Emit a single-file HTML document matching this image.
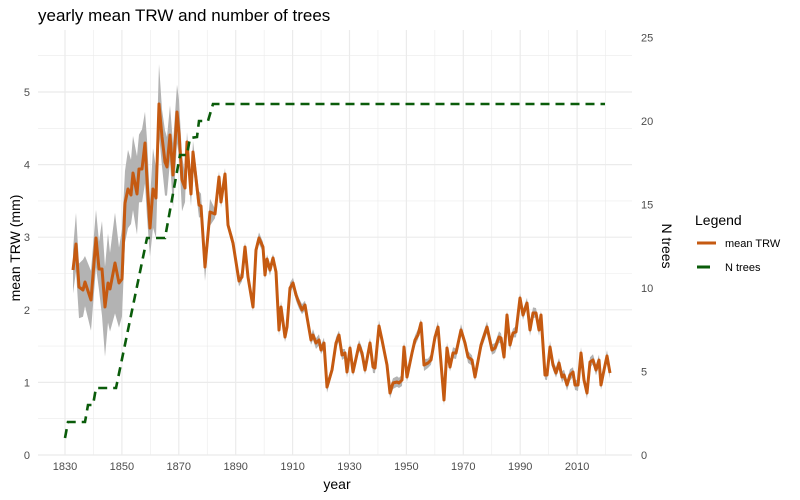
<!DOCTYPE html>
<html><head><meta charset="utf-8"><style>
html,body{margin:0;padding:0;background:#fff;}
svg{display:block;font-family:"Liberation Sans",Arial,sans-serif;}
</style></head><body>
<svg id="s" width="800" height="500" viewBox="0 0 800 500" xmlns="http://www.w3.org/2000/svg">
<rect width="800" height="500" fill="#fff"/>
<g id="grid"></g>
<polygon id="band" fill="#b3b3b3" stroke="none"/>
<polyline id="trw" fill="none" stroke="#c55a11" stroke-width="3" stroke-linejoin="round"/>
<polyline id="nt" fill="none" stroke="#0a5c0a" stroke-width="2.6" stroke-dasharray="9,6"/>
<text x="38" y="21" font-size="17" fill="#000">yearly mean TRW and number of trees</text>
<g font-size="11" fill="#4d4d4d" text-anchor="end" id="yl"></g>
<g font-size="11" fill="#4d4d4d" text-anchor="start" id="yr"></g>
<g font-size="11" fill="#4d4d4d" text-anchor="middle" id="xl"></g>
<text x="337" y="489" font-size="14" text-anchor="middle">year</text>
<text transform="translate(20,248) rotate(-90)" font-size="14" text-anchor="middle">mean TRW (mm)</text>
<text transform="translate(662,246) rotate(90)" font-size="14" text-anchor="middle">N trees</text>
<text x="695" y="225" font-size="14">Legend</text>
<line x1="697" y1="243" x2="716" y2="243" stroke="#c55a11" stroke-width="3"/>
<text x="725" y="247" font-size="11">mean TRW</text>
<line x1="697" y1="267" x2="710" y2="267" stroke="#0a5c0a" stroke-width="3"/>
<text x="725" y="271" font-size="11">N trees</text>
</svg>
<script>
var ns="http://www.w3.org/2000/svg";
function el(p,t,a,tx){var e=document.createElementNS(ns,t);for(var k in a)e.setAttribute(k,a[k]);if(tx!==undefined)e.textContent=tx;document.getElementById(p).appendChild(e);}
var L=38,R=632,T=30,B=455;
for(var v=0;v<=5.5;v+=0.5){var y=455-v*72.6;el("grid","line",{x1:L,x2:R,y1:y,y2:y,stroke:"#ebebeb","stroke-width":(v%1==0)?1.2:0.6});}
for(var yr=1830;yr<=2020;yr+=10){var x=65+(yr-1830)*2.845;el("grid","line",{x1:x,x2:x,y1:T,y2:B,stroke:"#ebebeb","stroke-width":(yr%20==10)?1.2:0.6});}
for(var v=0;v<=5;v++)el("yl","text",{x:30,y:459-v*72.6},v);
for(var v=0;v<=25;v+=5)el("yr","text",{x:641,y:459-v*16.7},v);
for(var yr=1830;yr<=2010;yr+=20)el("xl","text",{x:65+(yr-1830)*2.845,y:470},yr);
var p=[[73,270],[76,244],[79,287],[83,290],[85,282],[91,300],[96,238],[99,269],[102,269],[105,307],[108,283],[110,289],[115,263],[119,283],[122,279],[125,203],[128,189],[131,195],[133,173],[137,194],[139,169],[142,169],[145,143],[147,180],[150,228],[153,189],[156,198],[159,104],[162,137],[165,162],[167,167],[170,135],[173,175],[177,112],[179,133],[182,180],[185,188],[187,142],[191,194],[193,152],[199,205],[201,206],[205,267],[210,212],[215,214],[219,177],[221,202],[225,174],[228,225],[233,243],[239,281],[242,277],[245,247],[248,277],[253,307],[256,250],[259,238],[263,247],[265,275],[267,259],[270,270],[273,258],[276,272],[279,330],[281,307],[285,337],[287,327],[290,288],[293,283],[296,295],[299,303],[302,310],[305,305],[307,317],[311,340],[313,335],[316,343],[319,340],[321,350],[324,343],[327,387],[332,370],[336,343],[339,335],[342,355],[345,353],[347,372],[350,348],[353,372],[359,345],[362,353],[365,370],[370,343],[373,367],[375,368],[379,326],[382,340],[385,355],[387,365],[390,393],[393,383],[397,382],[399,383],[402,380],[404,347],[407,377],[412,353],[415,340],[418,335],[421,323],[424,365],[428,363],[431,360],[435,337],[438,327],[441,363],[444,400],[447,348],[450,367],[453,353],[456,353],[461,330],[465,343],[468,357],[472,360],[475,377],[481,345],[487,327],[492,350],[495,348],[499,337],[501,338],[504,357],[507,315],[510,345],[513,333],[516,332],[520,298],[523,315],[527,303],[530,330],[533,313],[536,313],[539,330],[541,315],[545,375],[547,375],[550,347],[553,365],[556,373],[559,363],[562,377],[564,375],[567,385],[570,375],[573,372],[575,385],[578,385],[581,353],[584,380],[587,393],[590,362],[593,360],[596,370],[599,360],[601,385],[604,370],[607,356],[610,373]];
document.getElementById("trw").setAttribute("points",p.map(function(a){return a.join(",")}).join(" "));
function w(x,i){var b=x<100?26:(x<124?42:(x<160?34:(x<185?28:(x<215?12:5))));return b*(0.8+0.4*Math.abs(Math.sin(i*1.7)));}
var up=p.map(function(a,i){return a[0]+","+(a[1]-w(a[0],i))});
var lo=p.map(function(a,i){return a[0]+","+(a[1]+w(a[0],i*1.3+2))}).reverse();
document.getElementById("band").setAttribute("points",up.concat(lo).join(" "));
var n=[[65,438],[68,422],[85,422],[88,405],[93,405],[96,388],[116,388],[147,238],[165,238],[180,155],[187,155],[190,138],[197,137],[199,121],[208,121],[213,104],[605,104]];
document.getElementById("nt").setAttribute("points",n.map(function(a){return a.join(",")}).join(" "));
</script>
</body></html>
